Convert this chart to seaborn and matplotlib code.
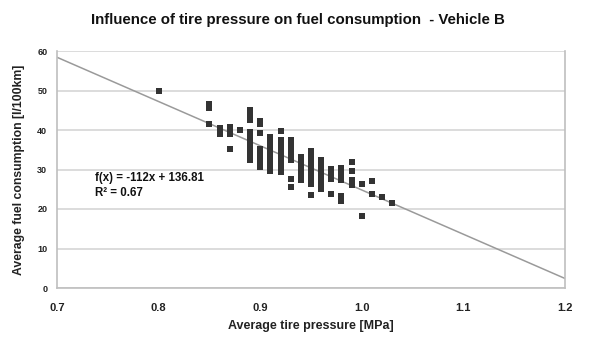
import matplotlib
matplotlib.use("Agg")
import matplotlib.pyplot as plt
import seaborn as sns
import pandas as pd

# ---- data ----
pressure_groups = [0.80, 0.85, 0.86, 0.87, 0.88, 0.89, 0.90, 0.91, 0.92, 0.93,
                   0.94, 0.95, 0.96, 0.97, 0.98, 0.99, 1.00, 1.01, 1.02, 1.03]
consumption_groups = [
    [50.0],
    [46.5, 45.6, 41.4],
    [40.4, 39.5, 39.0],
    [40.8, 39.8, 39.0, 35.3],
    [40.0],
    [45.0, 44.0, 42.6, 39.5, 38.5, 37.5, 36.5, 35.5, 34.5, 33.5, 32.4],
    [42.3, 41.5, 39.2, 35.2, 34.2, 33.2, 32.2, 31.2, 30.6],
    [38.3, 37.3, 36.3, 35.3, 34.3, 33.3, 32.3, 31.3, 30.3, 29.5],
    [39.7, 37.4, 36.4, 35.4, 34.4, 33.4, 32.4, 31.4, 30.4, 29.3],
    [37.4, 36.4, 35.4, 34.4, 33.4, 32.3, 27.5, 25.5],
    [33.2, 32.2, 31.2, 30.2, 29.2, 28.2, 27.3],
    [34.8, 33.8, 32.8, 31.8, 30.8, 29.8, 28.8, 27.8, 26.8, 26.3, 23.5],
    [32.5, 31.5, 30.5, 29.5, 28.5, 27.5, 26.5, 25.5, 25.1],
    [30.2, 29.2, 28.2, 27.6, 23.9],
    [30.5, 29.6, 28.5, 27.4, 23.3, 22.0],
    [31.8, 29.6, 27.3, 26.2],
    [26.3, 18.3],
    [27.1, 23.8],
    [23.0],
    [21.4],
]
trend_slope = -112.0
trend_intercept = 136.81
trend_x = [0.7, 1.2]
x_ticks = [0.7, 0.8, 0.9, 1.0, 1.1, 1.2]
x_tick_labels = ["0.7", "0.8", "0.9", "1.0", "1.1", "1.2"]
y_ticks = [0, 10, 20, 30, 40, 50, 60]
y_tick_labels = ["0", "10", "20", "30", "40", "50", "60"]

title = "Influence of tire pressure on fuel consumption  - Vehicle B"
x_label = "Average tire pressure [MPa]"
y_label = "Average fuel consumption [l/100km]"
eq_text = "f(x) = -112x + 136.81\nR\u00b2 = 0.67"

# ---- build tables ----
rows = []
for p, vals in zip(pressure_groups, consumption_groups):
    for v in vals:
        rows.append({"pressure": p, "consumption": v})
df = pd.DataFrame(rows)
trend_df = pd.DataFrame({"pressure": trend_x,
                         "consumption": [trend_slope * x + trend_intercept for x in trend_x]})

sns.set_theme(style="white")
plt.rcParams["font.family"] = ["Liberation Sans", "DejaVu Sans"]
plt.rcParams["font.weight"] = "bold"

fig = plt.figure(figsize=(6.05, 3.46), dpi=100)
ax = fig.add_axes([57 / 605, 1 - 288 / 346, (565 - 57) / 605, (288 - 51) / 346])

ax.set_axisbelow(True)
ax.yaxis.grid(True, color="#d9d9d9", linewidth=1.3)
ax.xaxis.grid(False)

sns.lineplot(data=trend_df, x="pressure", y="consumption", ax=ax,
             color="#9a9a9a", linewidth=1.1, zorder=2)
sns.scatterplot(data=df, x="pressure", y="consumption", ax=ax,
                marker="s", color="#333333", s=21, linewidth=0, zorder=3)

ax.set_xlim(0.7, 1.2)
ax.set_ylim(0, 60)
ax.set_xticks(x_ticks)
ax.set_xticklabels(x_tick_labels, fontsize=8, fontweight="bold", color="#222222")
ax.set_yticks(y_ticks)
ax.set_yticklabels(y_tick_labels, fontsize=6.5, fontweight="bold", color="#222222")
ax.tick_params(axis="both", which="both", direction="out", width=1, color="#bfbfbf")
ax.tick_params(axis="x", length=4, pad=7)
ax.tick_params(axis="y", length=4, pad=3)

for side in ["left", "bottom", "right"]:
    ax.spines[side].set_visible(True)
    ax.spines[side].set_color("#bfbfbf")
    ax.spines[side].set_linewidth(1.2)
ax.spines["top"].set_visible(False)

ax.set_xlabel(x_label, fontsize=9, fontweight="bold", color="#222222", labelpad=5)
ax.set_ylabel(y_label, fontsize=8.8, fontweight="bold", color="#222222", labelpad=9)

ax.text(0.7374, 26.0, eq_text, fontsize=8.3, fontweight="bold", color="#111111",
        va="center", ha="left", linespacing=1.3)

fig.text(0.493, 1 - 20 / 346, title, ha="center", va="center",
         fontsize=10.8, fontweight="bold", color="#111111")

fig.savefig("out.png", dpi=100, facecolor="white")
